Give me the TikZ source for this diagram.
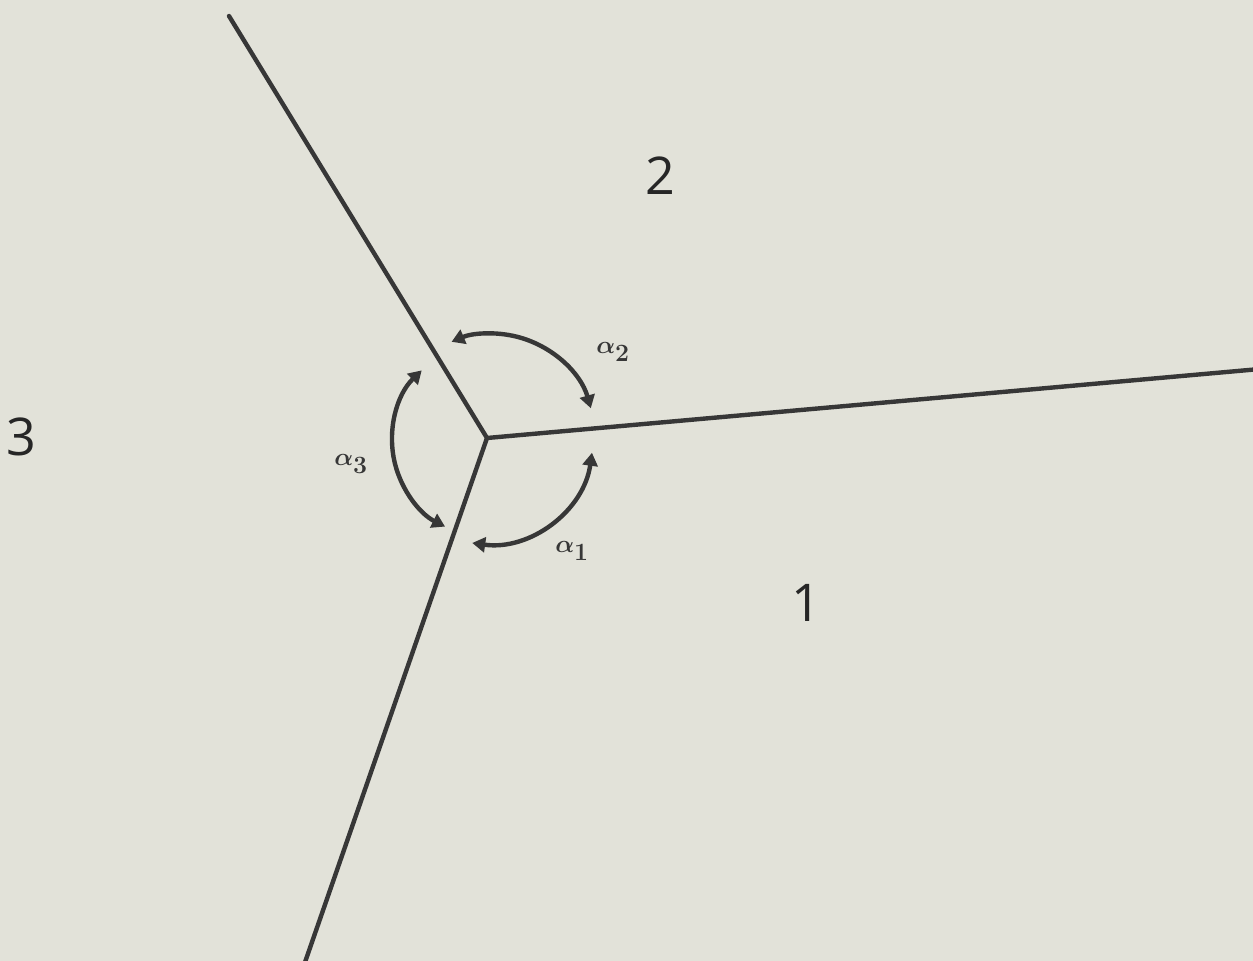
\documentclass[tikz,border=0pt]{standalone}
\usepackage{fontspec}
\setsansfont{Open Sans}
\usetikzlibrary{arrows.meta,calc}
\definecolor{paper}{RGB}{226,226,217}
\definecolor{ink}{RGB}{55,55,55}
\begin{document}
\begin{tikzpicture}[x=1pt,y=-1pt,
  boundary/.style={draw=ink,line width=4.4pt,line cap=round},
  anglearc/.style={draw=ink,line width=4.4pt,{Triangle[length=13pt,width=15pt]}-{Triangle[length=13pt,width=15pt]}},
  grainlabel/.style={font=\sffamily\fontsize{52}{52}\selectfont,text=black!85,inner sep=0pt},
  alphalabel/.style={font=\fontsize{40}{40}\selectfont\boldmath,text=ink,inner sep=0pt}]
\fill[paper] (0,0) rectangle (1253,961);
\useasboundingbox (0,0) rectangle (1253,961);
\coordinate (J) at (487,438);
\coordinate (T) at (229,16);
\coordinate (R) at (1260,369);
\coordinate (B) at (303,968);
\draw[boundary] (J) -- (T);
\draw[boundary] (J) -- (R);
\draw[boundary] (J) -- (B);
% angle arcs
\draw[anglearc] ($(J)+(98:106)$) arc[start angle=98,end angle=8,radius=106];
\draw[anglearc] ($(J)+(-16:108)$) arc[start angle=-16,end angle=-113,radius=103];
\draw[anglearc] ($(J)+(-134:94)$) arc[start angle=226,end angle=117,radius=97];
% labels
\node[grainlabel] (g2) at (660,176) {2};
\node[grainlabel] (g3) at (21,437) {3};
\node[grainlabel] (g1) at (806,603) {1};
\node[alphalabel] (a2) at (613,352) {$\alpha_2$};
\node[alphalabel] (a3) at (351,464) {$\alpha_3$};
\node[alphalabel] (a1) at (572,551) {$\alpha_1$};
\end{tikzpicture}
\end{document}
